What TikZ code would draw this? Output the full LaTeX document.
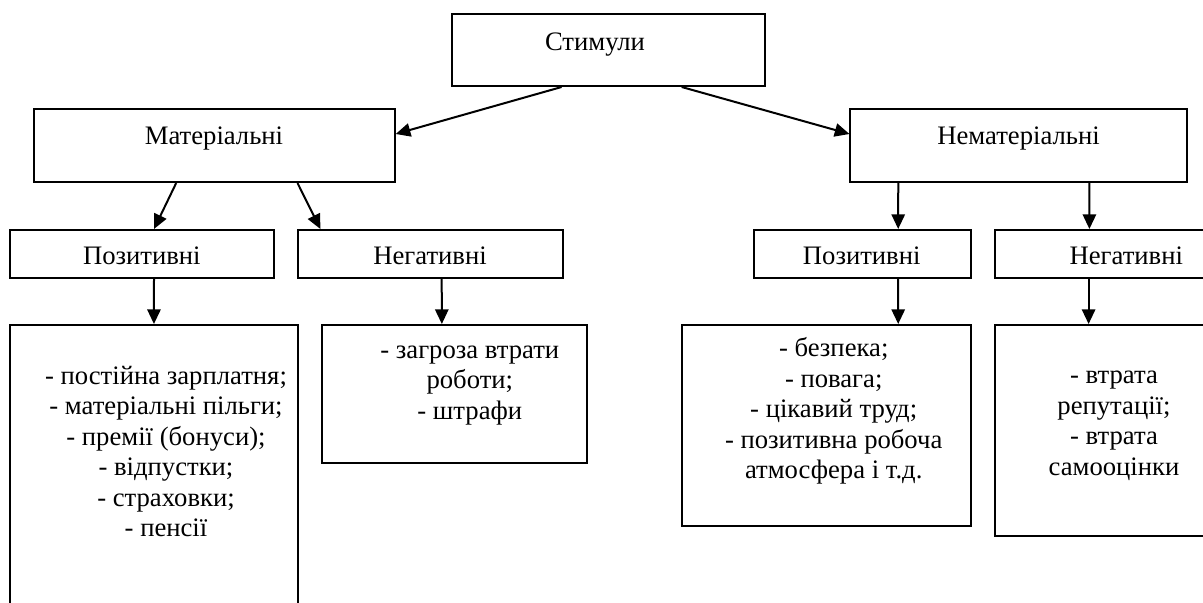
\documentclass[tikz,border=0pt]{standalone}
\usepackage{fontspec}
\setmainfont{Liberation Serif}
\usetikzlibrary{arrows.meta,calc}
\begin{document}
\begin{tikzpicture}[x=0.75pt,y=-0.75pt,
  box/.style 2 args={draw,line width=1.5pt,minimum width=#1*0.75pt,minimum height=#2*0.75pt,inner sep=0pt},
  lbl/.style={font=\fontsize{20}{22.9}\selectfont,inner sep=0pt,align=center},
  arr/.style={line width=1.5pt,-{Triangle[length=11pt,width=10pt]}}]
\useasboundingbox (0,0) rectangle (1203,603);

% boxes
\node[box={313}{72}]    (stim)  at (608.1,50) {};
\node[box={361}{73}]    (mat)   at (214.2,145.5) {};
\node[box={336.5}{73}]  (nemat) at (1018.7,145.5) {};
\node[box={264.4}{48}]  (pos1)  at (142.2,254) {};
\node[box={265}{48}]    (neg1)  at (430.5,254) {};
\node[box={217}{48}]    (pos2)  at (862.7,254) {};
\node[box={265.4}{48}]  (neg2)  at (1127.3,254) {};
\node[box={288.5}{295}] (list1) at (154.2,472.5) {};
\node[box={264.5}{138}] (list2) at (454.5,394) {};
\node[box={289}{201}]   (list3) at (826.8,425.5) {};
\node[box={265.4}{211}] (list4) at (1127.3,430.5) {};

% labels
\node[lbl,anchor=base] (tstim)  at (595,50)    {Стимули};
\node[lbl,anchor=base] (tmat)   at (214,144)   {Матеріальні};
\node[lbl,anchor=base] (tnemat) at (1018.5,144) {Нематеріальні};
\node[lbl,anchor=base] (tpos1)  at (141.8,264) {Позитивні};
\node[lbl,anchor=base] (tneg1)  at (430,264)   {Негативні};
\node[lbl,anchor=base] (tpos2)  at (861.7,264) {Позитивні};
\node[lbl,anchor=base] (tneg2)  at (1126.3,264) {Негативні};

\node[lbl] (tl1) at (166,451.5) {- постійна зарплатня;\\- матеріальні пільги;\\- премії (бонуси);\\- відпустки;\\- страховки;\\- пенсії};
\node[lbl] (tl2) at (469.8,385.5) {- загроза втрати\\роботи;\\- штрафи};
\node[lbl] (tl3) at (833.7,411) {- безпека;\\- повага;\\- цікавий труд;\\- позитивна робоча\\атмосфера і т.д.};
\node[lbl] (tl4) at (1114,426) {- втрата\\репутації;\\- втрата\\самооцінки};

% connectors
\draw[arr] ($(stim.south west)+(111,0)$)   -- ($(mat.north east)+(0,26)$);
\draw[arr] ($(stim.south west)+(231.1,0)$) -- ($(nemat.north west)+(0,26)$);
\draw[arr] ($(mat.south west)+(143.5,0)$)  -- ($(pos1.north west)+(145,0)$);
\draw[arr] ($(mat.south west)+(264.8,0)$)  -- ($(neg1.north west)+(23.4,0)$);
\draw[arr] ($(nemat.south west)+(48.8,0)$) -- ($(pos2.north west)+(145,0)$);
\draw[arr] ($(nemat.south west)+(240,0)$)  -- ($(neg2.north west)+(95.8,0)$);
\draw[arr] ($(pos1.south west)+(145,0)$)   -- ($(list1.north west)+(145,0)$);
\draw[arr] ($(neg1.south west)+(144.7,0)$) -- ($(list2.north west)+(120.6,0)$);
\draw[arr] ($(pos2.south west)+(145,0)$)   -- ($(list3.north west)+(216.9,0)$);
\draw[arr] ($(neg2.south west)+(95,0)$)    -- ($(list4.north west)+(95,0)$);
\end{tikzpicture}
\end{document}
